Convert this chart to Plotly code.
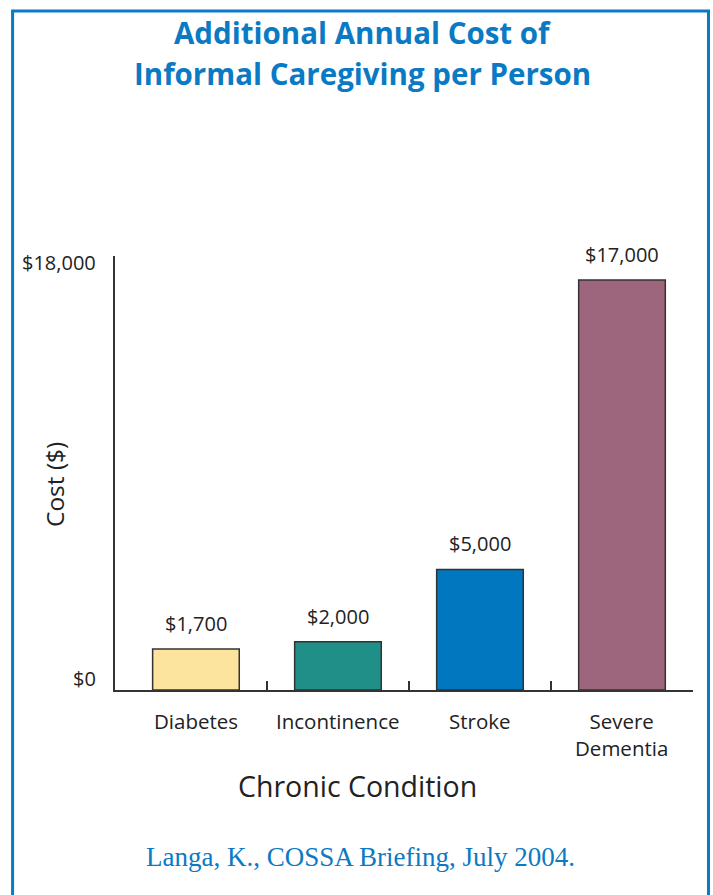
import plotly.graph_objects as go

categories = ["Diabetes", "Incontinence", "Stroke", "Severe<br>Dementia"]
values = [1700, 2000, 5000, 17000]
value_labels = ["$1,700", "$2,000", "$5,000", "$17,000"]
bar_colors = ["#FDE49E", "#1F8F87", "#0077BE", "#9E667D"]
ytick_vals = [0, 18000]
ytick_text = ["$0", "$18,000"]

W, H = 713, 895
L, R = 115, W - 693.5
T, B = 256, H - 690
pw, ph = W - L - R, H - T - B

def px_x(x):
    return (x - L) / pw

def px_y(y):
    return (H - B - y) / ph

BLUE = "#0A7AC4"
AX = "#333333"
SANS = "Open Sans, Noto Sans, sans-serif"
TXT = "#222222"

xs = list(range(len(categories)))
fig = go.Figure()
fig.add_trace(go.Bar(
    x=xs, y=values, width=0.61,
    marker=dict(color=bar_colors, line=dict(color=AX, width=1.5)),
    hoverinfo="skip",
))

ann = []
for x, v, t in zip(xs, values, value_labels):
    ann.append(dict(x=x, y=v, xref="x", yref="y", text=t, showarrow=False,
                    xanchor="center", yanchor="bottom", yshift=10,
                    font=dict(family=SANS, size=20, color=TXT)))
for x, c in zip(xs, categories):
    ann.append(dict(x=x, y=0, xref="x", yref="paper", text=c, showarrow=False,
                    xanchor="center", yanchor="top", yshift=-15,
                    font=dict(family=SANS, size=20.5, color=TXT)))
ann.append(dict(x=0, y=ytick_vals[0], xref="paper", yref="y", text=ytick_text[0], showarrow=False,
                xanchor="right", yanchor="middle", xshift=-17, yshift=12,
                font=dict(family=SANS, size=20, color=TXT)))
ann.append(dict(x=0, y=ytick_vals[1], xref="paper", yref="y", text=ytick_text[1], showarrow=False,
                xanchor="right", yanchor="middle", xshift=-17, yshift=-6,
                font=dict(family=SANS, size=20, color=TXT)))
# axis titles
ann.append(dict(x=px_x(358), y=px_y(786), xref="paper", yref="paper", text="Chronic Condition",
                xanchor="center", yanchor="middle", showarrow=False,
                font=dict(family=SANS, size=28.5, color=TXT)))
ann.append(dict(x=px_x(54), y=px_y(485), xref="paper", yref="paper", text="Cost ($)", textangle=-90,
                xanchor="center", yanchor="middle", showarrow=False,
                font=dict(family=SANS, size=24.5, color=TXT)))
# title
ann.append(dict(x=px_x(363), y=px_y(33), xref="paper", yref="paper",
                text="<b>Additional Annual Cost of</b>", showarrow=False,
                xanchor="center", yanchor="middle",
                font=dict(family="Open Sans, sans-serif", size=29.5, color=BLUE)))
ann.append(dict(x=px_x(363), y=px_y(73), xref="paper", yref="paper",
                text="<b>Informal Caregiving per Person</b>", showarrow=False,
                xanchor="center", yanchor="middle",
                font=dict(family="Open Sans, sans-serif", size=29.5, color=BLUE)))
# citation
ann.append(dict(x=px_x(361), y=px_y(857), xref="paper", yref="paper",
                text="Langa, K., COSSA Briefing, July 2004.", showarrow=False,
                xanchor="center", yanchor="middle",
                font=dict(family="Liberation Serif, serif", size=27, color=BLUE)))

shapes = [dict(type="rect", xref="paper", yref="paper",
               x0=px_x(12.5), x1=px_x(709), y0=px_y(11), y1=px_y(905),
               line=dict(color=BLUE, width=3), fillcolor="rgba(0,0,0,0)", layer="above")]

fig.update_layout(
    width=W, height=H,
    margin=dict(l=L, r=R, t=T, b=B, pad=0),
    paper_bgcolor="white", plot_bgcolor="white",
    showlegend=False,
    xaxis=dict(range=[-0.57, 3.5], tickvals=[0.5, 1.5, 2.5, 3.5], ticks="inside", ticklen=9,
               tickwidth=2, tickcolor=AX, showticklabels=False, showgrid=False, zeroline=False,
               showline=True, linecolor=AX, linewidth=2, fixedrange=True),
    yaxis=dict(range=[0, 18000], tickvals=[18000], ticks="inside", ticklen=6, tickwidth=2,
               tickcolor=AX, showticklabels=False, showgrid=False, zeroline=False,
               showline=True, linecolor=AX, linewidth=2, fixedrange=True),
    annotations=ann,
    shapes=shapes,
)

fig.write_html("out.html")
